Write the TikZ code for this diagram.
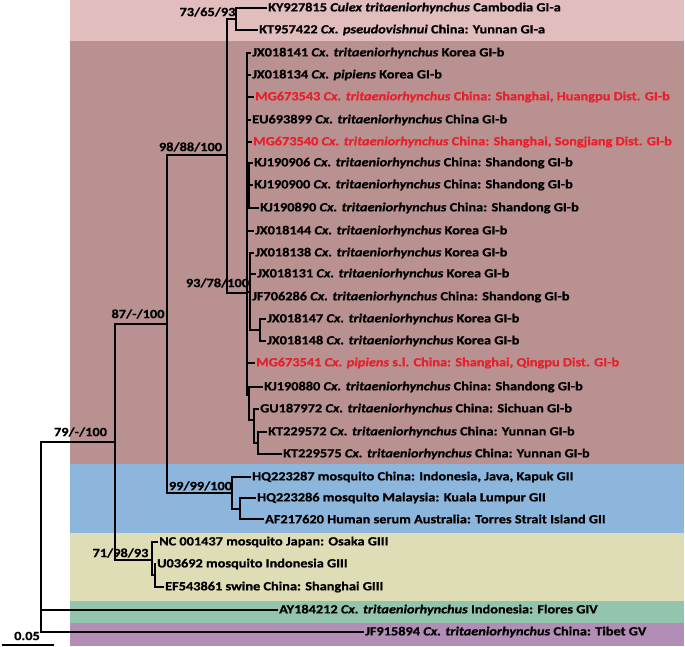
\documentclass[tikz,border=0pt]{standalone}
\usepackage{fontspec}
\setmainfont{Carlito}[FakeStretch=1.145,BoldFeatures={FakeBold=0.9},BoldItalicFeatures={FakeBold=0.9}]
\definecolor{bandA}{RGB}{226,189,189}
\definecolor{bandB}{RGB}{185,145,145}
\definecolor{bandII}{RGB}{141,182,221}
\definecolor{bandIII}{RGB}{223,221,182}
\definecolor{bandIV}{RGB}{147,197,174}
\definecolor{bandV}{RGB}{178,142,183}
\definecolor{jred}{RGB}{232,32,44}
\begin{document}
\begin{tikzpicture}[x=1pt,y=-1pt,
  tip/.style={anchor=west,inner xsep=2pt,inner ysep=0pt,font=\bfseries\fontsize{12.5}{14}\selectfont},
  redtip/.style={tip,text=jred},
  bslabel/.style={inner sep=0pt,font=\bfseries\fontsize{12.5}{14}\selectfont},
  br/.style={line width=2.8pt,line cap=rect}]
\useasboundingbox (0,0) rectangle (685,647);
% bands
\fill[bandA] (70,0) rectangle (684,41);
\fill[bandB] (70,41) rectangle (684,464);
\fill[bandII] (70,464) rectangle (684,533);
\fill[bandIII] (70,533) rectangle (684,601);
\fill[bandIV] (70,601) rectangle (684,623);
\fill[bandV] (70,623) rectangle (684,646);
% tips
\node[tip] (kY) at (266,8) {KY927815 \textit{Culex tritaeniorhynchus} Cambodia GI-a};
\node[tip] (kT957) at (257,30) {KT957422 \textit{Cx. pseudovishnui} China: Yunnan GI-a};
\node[tip] (j141) at (250,53) {JX018141 \textit{Cx. tritaeniorhynchus} Korea GI-b};
\node[tip] (j134) at (250,75) {JX018134 \textit{Cx. pipiens} Korea GI-b};
\node[redtip] (m543) at (253,97) {MG673543 \textit{Cx. tritaeniorhynchus} China: Shanghai, Huangpu Dist. GI-b};
\node[tip] (eu) at (250,120) {EU693899 \textit{Cx. tritaeniorhynchus} China GI-b};
\node[redtip] (m540) at (251,142) {MG673540 \textit{Cx. tritaeniorhynchus} China: Shanghai, Songjiang Dist. GI-b};
\node[tip] (k906) at (252,163) {KJ190906 \textit{Cx. tritaeniorhynchus} China: Shandong GI-b};
\node[tip] (k900) at (252,185) {KJ190900 \textit{Cx. tritaeniorhynchus} China: Shandong GI-b};
\node[tip] (k890) at (258,208) {KJ190890 \textit{Cx. tritaeniorhynchus} China: Shandong GI-b};
\node[tip] (j144) at (253,231) {JX018144 \textit{Cx. tritaeniorhynchus} Korea GI-b};
\node[tip] (j138) at (253,253) {JX018138 \textit{Cx. tritaeniorhynchus} Korea GI-b};
\node[tip] (j131) at (255,274) {JX018131 \textit{Cx. tritaeniorhynchus} Korea GI-b};
\node[tip] (jf) at (250,297) {JF706286 \textit{Cx. tritaeniorhynchus} China: Shandong GI-b};
\node[tip] (j147) at (265,319) {JX018147 \textit{Cx. tritaeniorhynchus} Korea GI-b};
\node[tip] (j148) at (265,341) {JX018148 \textit{Cx. tritaeniorhynchus} Korea GI-b};
\node[redtip] (m541) at (254,363) {MG673541 \textit{Cx. pipiens} s.l. China: Shanghai, Qingpu Dist. GI-b};
\node[tip] (k880) at (262,387) {KJ190880 \textit{Cx. tritaeniorhynchus} China: Shandong GI-b};
\node[tip] (gu) at (258,409) {GU187972 \textit{Cx. tritaeniorhynchus} China: Sichuan GI-b};
\node[tip] (kt572) at (266,432) {KT229572 \textit{Cx. tritaeniorhynchus} China: Yunnan GI-b};
\node[tip] (kt575) at (281,454) {KT229575 \textit{Cx. tritaeniorhynchus} China: Yunnan GI-b};
\node[tip] (hq287) at (250,477) {HQ223287 mosquito China: Indonesia, Java, Kapuk GII};
\node[tip] (hq286) at (255,498) {HQ223286 mosquito Malaysia: Kuala Lumpur GII};
\node[tip] (af) at (263,519) {AF217620 Human serum Australia: Torres Strait Island GII};
\node[tip] (nc) at (157,542) {NC 001437 mosquito Japan: Osaka GIII};
\node[tip] (u03) at (155,564) {U03692 mosquito Indonesia GIII};
\node[tip] (ef) at (163,587) {EF543861 swine China: Shanghai GIII};
\node[tip] (ay) at (277,610) {AY184212 \textit{Cx. tritaeniorhynchus} Indonesia: Flores GIV};
\node[tip] (jfv) at (363,632) {JF915894 \textit{Cx. tritaeniorhynchus} China: Tibet GV};
% internal nodes
\coordinate (root) at (41,442);
\coordinate (n79) at (115,442);
\coordinate (n87) at (167,324);
\coordinate (n71) at (152,560);
\coordinate (n98) at (227,155);
\coordinate (n99) at (232,493);
\coordinate (n73) at (236,19);
\coordinate (n93) at (247,293);
\coordinate (cB) at (249,185);
\coordinate (cC) at (250,292);
\coordinate (cE) at (260,330);
\coordinate (cD) at (249,395);
\coordinate (cF) at (254,420);
\coordinate (cG) at (258,443);
\coordinate (cH) at (240,509);
\coordinate (cI) at (155,575);
% branches
\draw[br] (root) -- (n79);
\draw[br] (root) |- (ay.west);
\draw[br] (root) |- (jfv.west);
\draw[br] (n79) |- (n87);
\draw[br] (n79) |- (n71);
\draw[br] (n87) |- (n98);
\draw[br] (n87) |- (n99);
\draw[br] (n98) |- (n73);
\draw[br] (n98) |- (n93);
\draw[br] (n73) |- (kY.west);
\draw[br] (n73) |- (kT957.west);
\draw[br] (n93) |- (j141.west);
\draw[br] (n93) |- (j134.west);
\draw[br] (n93) |- (m543.west);
\draw[br] (n93) |- (eu.west);
\draw[br] (n93) |- (m540.west);
\draw[br] (n93) |- (cB);
\draw[br] (n93) |- (j144.west);
\draw[br] (n93) |- (cC);
\draw[br] (n93) |- (m541.west);
\draw[br] (n93) |- (cD);
\draw[br] (cB) |- (k906.west);
\draw[br] (cB) |- (k900.west);
\draw[br] (cB) |- (k890.west);
\draw[br] (cC) |- (j138.west);
\draw[br] (cC) |- (j131.west);
\draw[br] (cC) |- (jf.west);
\draw[br] (cC) |- (cE);
\draw[br] (cE) |- (j147.west);
\draw[br] (cE) |- (j148.west);
\draw[br] (cD) |- (k880.west);
\draw[br] (cD) |- (cF);
\draw[br] (cF) |- (gu.west);
\draw[br] (cF) |- (cG);
\draw[br] (cG) |- (kt572.west);
\draw[br] (cG) |- (kt575.west);
\draw[br] (n99) |- (hq287.west);
\draw[br] (n99) |- (cH);
\draw[br] (cH) |- (hq286.west);
\draw[br] (cH) |- (af.west);
\draw[br] (n71) |- (nc.west);
\draw[br] (n71) |- (cI);
\draw[br] (cI) |- (u03.west);
\draw[br] (cI) |- (ef.west);
% support values
\node[bslabel] (s73) at (207.5,12) {73/65/93};
\node[bslabel] (s98) at (190.5,147) {98/88/100};
\node[bslabel] (s93) at (217.5,283) {93/78/100};
\node[bslabel] (s87) at (138,314) {87/-/100};
\node[bslabel] (s79) at (80.5,432) {79/-/100};
\node[bslabel] (s99) at (200.5,486) {99/99/100};
\node[bslabel] (s71) at (120.5,553) {71/98/93};
% scale bar
\coordinate (sb1) at (2,645);
\coordinate (sb2) at (54,645);
\draw[line width=1.2pt] (sb1) -- (sb2);
\node[bslabel] (sbl) at (27,636) {0.05};
\end{tikzpicture}
\end{document}
